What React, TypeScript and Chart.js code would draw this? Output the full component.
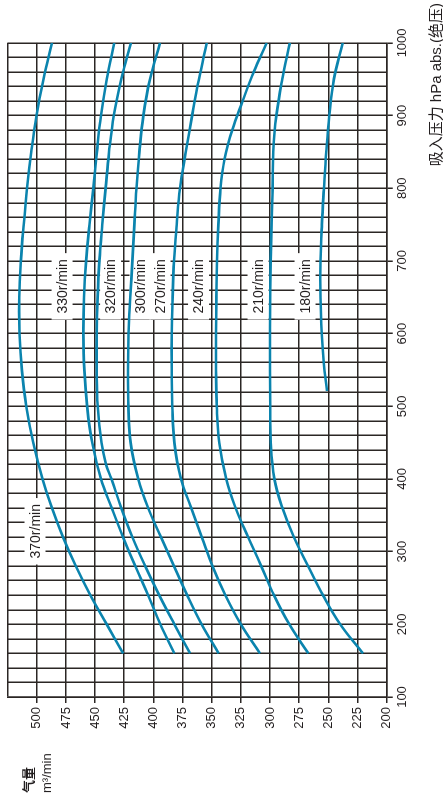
import { useEffect, useRef } from 'react';
import { Chart, registerables } from 'chart.js';

Chart.register(...registerables);

const FONT = "'Liberation Sans', Arial, 'Noto Sans CJK SC', sans-serif";
const INK = '#231f20';
const GRID = '#2b2624';
const CURVE = '#0b84ae';

// Pressure ticks (hPa abs.) and flow ticks (m³/min)
const pressureMin = 100;
const pressureMax = 1000;
const pressureStep = 20;
const pressureLabelEvery = 100;
const flowMin = 200;
const flowMax = 525;
const flowStep = 25;
const flowLabelMax = 500;

// Curves: suction pressure (hPa) vs air flow (m³/min)
const p370 = [160, 200, 240, 280, 320, 360, 400, 450, 500, 550, 600, 650, 700, 750, 800, 850, 900, 950, 1000];
const q370 = [426, 440, 454, 466.5, 477.5, 487, 495, 503, 509, 512.8, 514.8, 515, 513.6, 511.2, 508.3, 504.7, 500.3, 494.3, 487];

const p330 = [160, 200, 240, 280, 320, 360, 400, 450, 500, 550, 600, 650, 700, 750, 800, 850, 900, 950, 1000];
const q330 = [382, 394, 404.5, 415.5, 426, 435.7, 445, 452.5, 456.8, 459.2, 460, 459.5, 457.7, 454.8, 451.5, 448.5, 445, 440, 433.5];

const p320 = [160, 200, 240, 280, 320, 360, 400, 420, 450, 500, 550, 600, 650, 700, 750, 800, 850, 900, 950, 1000];
const q320 = [368.6, 382, 395, 407, 418, 427.5, 436, 440.6, 444.5, 447.7, 448.6, 448.6, 447.8, 446.3, 443.8, 441, 438, 434, 427.5, 419.2];

const p300 = [160, 200, 240, 280, 320, 360, 400, 450, 500, 550, 600, 650, 700, 750, 800, 850, 900, 950, 1000];
const q300 = [344, 358.6, 371, 382.3, 393.5, 404.5, 413, 419.5, 421.5, 421.8, 421.3, 419.8, 418, 416.3, 414.5, 412, 408.6, 403, 394.3];

const p270 = [160, 200, 240, 280, 320, 360, 400, 450, 500, 550, 600, 650, 700, 750, 800, 850, 900, 950, 1000];
const q270 = [308.6, 325, 338.3, 349.4, 358.5, 367.5, 376.3, 382, 383.8, 384.3, 384.3, 383.5, 382.3, 380, 377.2, 372.2, 366.8, 361, 354.3];

const p240 = [160, 200, 240, 280, 320, 360, 400, 450, 500, 550, 600, 650, 700, 750, 800, 840, 880, 920, 960, 1000];
const q240 = [267.2, 283.5, 296.6, 307.5, 318.8, 329.5, 337.5, 343.5, 345.7, 346.3, 346.3, 346, 345.5, 344.3, 342.5, 339, 332.5, 323.5, 314, 302.9];

const p210 = [160, 200, 240, 280, 320, 360, 400, 450, 500, 600, 700, 800, 850, 900, 950, 1000];
const q210 = [220.3, 239.8, 254.6, 267.3, 279.6, 289.4, 296.3, 299.4, 299.8, 300, 299.5, 297.8, 297.2, 294.6, 289.5, 283];

const p180 = [521, 560, 600, 650, 700, 750, 800, 850, 900, 950, 1000];
const q180 = [251.2, 254, 255.7, 256.8, 256.8, 255.6, 253.8, 251.8, 249.2, 245.3, 237.7];

// Speed labels (anchored in data coordinates)
const labelTexts = ['370r/min', '330r/min', '320r/min', '300r/min', '270r/min', '240r/min', '210r/min', '180r/min'];
const labelPressure = [328, 665, 665, 665, 665, 665, 665, 665];
const labelFlow = [501.5, 478.3, 436.7, 411.5, 394.3, 361.3, 310.3, 270];

const curvePressures = [p370, p330, p320, p300, p270, p240, p210, p180];
const curveFlows = [q370, q330, q320, q300, q270, q240, q210, q180];

const yAxisTitle = ['气量', 'm³/min'];
const xAxisTitle = '吸入压力 hPa abs.(绝压)';

const annotate = {
  id: 'annotate',
  beforeDatasetsDraw(chart: any) {
    const { ctx } = chart;
    const x = chart.scales.x;
    const y = chart.scales.y;
    ctx.save();
    ctx.font = `14px ${FONT}`;
    ctx.textAlign = 'center';
    ctx.textBaseline = 'middle';
    labelTexts.forEach((t, i) => {
      const cx = x.getPixelForValue(labelPressure[i]);
      const cy = y.getPixelForValue(labelFlow[i]);
      const w = ctx.measureText(t).width + 12;
      const h = 21;
      ctx.fillStyle = '#ffffff';
      ctx.fillRect(cx - w / 2, cy - h / 2, w, h);
    });
    ctx.fillStyle = INK;
    labelTexts.forEach((t, i) => {
      const cx = x.getPixelForValue(labelPressure[i]);
      const cy = y.getPixelForValue(labelFlow[i]);
      ctx.fillText(t, cx, cy + 1);
    });
    ctx.restore();
  },
  afterDraw(chart: any) {
    const { ctx, width, height } = chart;
    ctx.save();
    ctx.fillStyle = INK;
    ctx.textBaseline = 'middle';
    ctx.textAlign = 'left';
    ctx.font = `bold 13px ${FONT}`;
    ctx.fillText(yAxisTitle[0], 8, 29);
    ctx.font = `13px ${FONT}`;
    ctx.fillText(yAxisTitle[1], 8, 47);
    ctx.textAlign = 'right';
    ctx.font = `15px ${FONT}`;
    ctx.fillText(xAxisTitle, width - 3, height - 6);
    ctx.restore();
  },
};

export default function App() {
  const ref = useRef<HTMLCanvasElement | null>(null);

  useEffect(() => {
    if (!ref.current) return;
    const datasets = curvePressures.map((ps, i) => ({
      label: labelTexts[i],
      data: ps.map((p, j) => ({ x: p, y: curveFlows[i][j] })),
      borderColor: CURVE,
      backgroundColor: CURVE,
      borderWidth: 2.6,
      pointRadius: 0,
      fill: false,
      tension: 0.4,
    }));

    const chart = new Chart(ref.current, {
      type: 'line',
      data: { datasets },
      options: {
        responsive: false,
        animation: false,
        devicePixelRatio: 1,
        layout: { padding: { top: 7.6, right: 42.9, left: 0, bottom: 0 } },
        plugins: { legend: { display: false }, tooltip: { enabled: false } },
        scales: {
          x: {
            type: 'linear',
            min: pressureMin,
            max: pressureMax,
            ticks: {
              stepSize: pressureStep,
              autoSkip: false,
              maxRotation: 0,
              minRotation: 0,
              padding: 2,
              color: INK,
              font: { family: FONT, size: 13 },
              callback: (v: any) => (Math.round(v) % pressureLabelEvery === 0 ? String(Math.round(v)) : ''),
            },
            grid: {
              color: GRID,
              lineWidth: 1.5,
              tickLength: 6,
              tickColor: (c: any) => (Math.round(c.tick?.value) % pressureLabelEvery === 0 ? GRID : 'rgba(0,0,0,0)'),
            },
            border: { display: true, color: GRID, width: 1.5 },
            afterFit: (s: any) => {
              s.height = 56.3;
              s.paddingLeft = 0;
              s.paddingRight = 0;
            },
          },
          y: {
            type: 'linear',
            min: flowMin,
            max: flowMax,
            ticks: {
              stepSize: flowStep,
              autoSkip: false,
              padding: 4,
              color: INK,
              font: { family: FONT, size: 13 },
              callback: (v: any) => (Math.round(v) <= flowLabelMax ? String(Math.round(v)) : ''),
            },
            grid: {
              color: GRID,
              lineWidth: 1.5,
              tickLength: 6,
              tickColor: (c: any) => (Math.round(c.tick?.value) <= flowLabelMax ? GRID : 'rgba(0,0,0,0)'),
            },
            border: { display: true, color: GRID, width: 1.5 },
            afterFit: (s: any) => {
              s.width = 104;
              s.paddingTop = 0;
              s.paddingBottom = 0;
            },
          },
        },
      },
      plugins: [annotate],
    });
    return () => chart.destroy();
  }, []);

  return (
    <div style={{ position: 'fixed', left: 0, top: 0, width: 443, height: 801, overflow: 'hidden', background: '#fff' }}>
      <div
        style={{
          position: 'absolute',
          left: 0,
          top: 0,
          width: 801,
          height: 443,
          transformOrigin: '0 0',
          transform: 'translateY(801px) rotate(-90deg)',
        }}
      >
        <canvas ref={ref} width={801} height={443} style={{ display: 'block', width: 801, height: 443 }} />
      </div>
    </div>
  );
}
